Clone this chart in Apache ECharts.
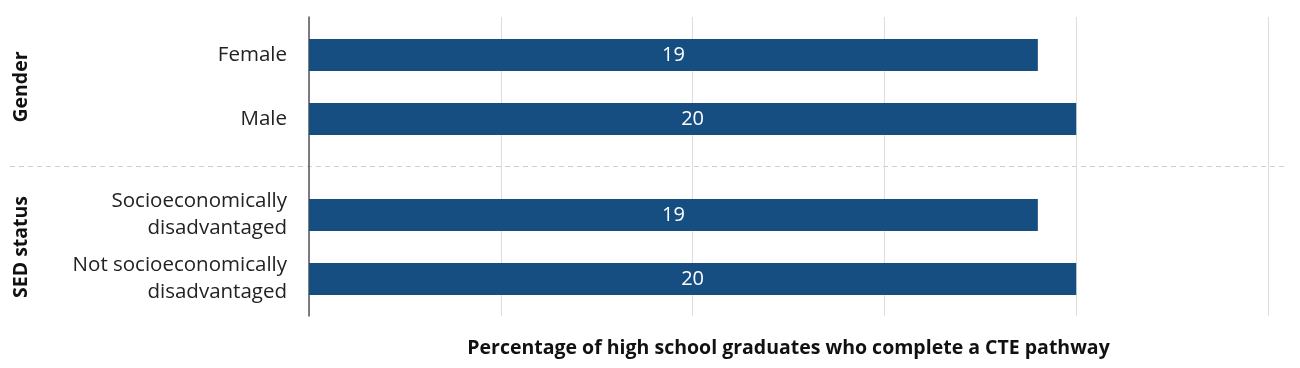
<!DOCTYPE html>
<html><head><meta charset="utf-8">
<script src="https://cdn.jsdelivr.net/npm/echarts@6/dist/echarts.min.js"></script>
<style>html,body{margin:0;padding:0;background:#fff}#c{width:1300px;height:368px}</style>
</head><body><div id="c"></div>
<script>
const genderCats = ['Female', 'Male'];
const genderVals = [19, 20];
const sedCats = ['Socioeconomically\ndisadvantaged', 'Not socioeconomically\ndisadvantaged'];
const sedVals = [19, 20];
const groupNames = ['Gender', 'SED status'];
const axisTitle = 'Percentage of high school graduates who complete a CTE pathway';
const xMin = 0, xMax = 25, xStep = 5;

const FONT = '"Open Sans", sans-serif';
const BAR = '#174E82';
const chart = echarts.init(document.getElementById('c'), null, {renderer: 'canvas'});
const L = 309, R = 32;
const hiddenX = (gi) => ({gridIndex: gi, type: 'value', min: xMin, max: xMax, interval: xStep, show: false});
const catY = (gi, cats, name) => ({
  gridIndex: gi, type: 'category', data: cats, inverse: true,
  axisLine: {show: false}, axisTick: {show: false}, splitLine: {show: false},
  axisLabel: {fontFamily: FONT, fontSize: 20.5, color: '#222', margin: 22, lineHeight: 27, align: 'right'},
  name: name, nameLocation: 'middle', nameRotate: 90, nameGap: 278,
  nameTextStyle: {fontFamily: FONT, fontSize: 19.5, fontWeight: 'bold', color: '#111'}
});
const barSeries = (gi, vals) => ({
  type: 'bar', xAxisIndex: gi, yAxisIndex: gi, data: vals, barWidth: 32,
  itemStyle: {color: BAR},
  label: {show: true, position: 'inside', color: '#fff', fontFamily: FONT, fontSize: 20},
  silent: true
});
chart.setOption({
  animation: false,
  grid: [
    {left: L, right: R, top: 17, height: 299},
    {left: L, right: R, top: 23, height: 128},
    {left: L, right: R, top: 183, height: 128}
  ],
  xAxis: [
    {gridIndex: 0, type: 'value', min: xMin, max: xMax, interval: xStep,
     axisLine: {show: false}, axisTick: {show: false}, axisLabel: {show: false},
     splitLine: {show: true, lineStyle: {color: '#dedede', width: 1}},
     name: axisTitle, nameLocation: 'middle', nameGap: 22,
     nameTextStyle: {fontFamily: FONT, fontSize: 19.5, fontWeight: 'bold', color: '#111'}},
    hiddenX(1), hiddenX(2)
  ],
  yAxis: [
    {gridIndex: 0, type: 'category', data: [''],
     axisLine: {show: true, lineStyle: {color: '#555', width: 1.5}},
     axisTick: {show: false}, axisLabel: {show: false}, splitLine: {show: false}},
    catY(1, genderCats, groupNames[0]),
    catY(2, sedCats, groupNames[1])
  ],
  series: [barSeries(1, genderVals), barSeries(2, sedVals)],
  graphic: [{
    type: 'line', shape: {x1: 10, y1: 166.5, x2: 1286, y2: 166.5},
    style: {stroke: '#cfcfcf', lineWidth: 1, lineDash: [5, 4]}, silent: true
  }]
});
</script></body></html>
